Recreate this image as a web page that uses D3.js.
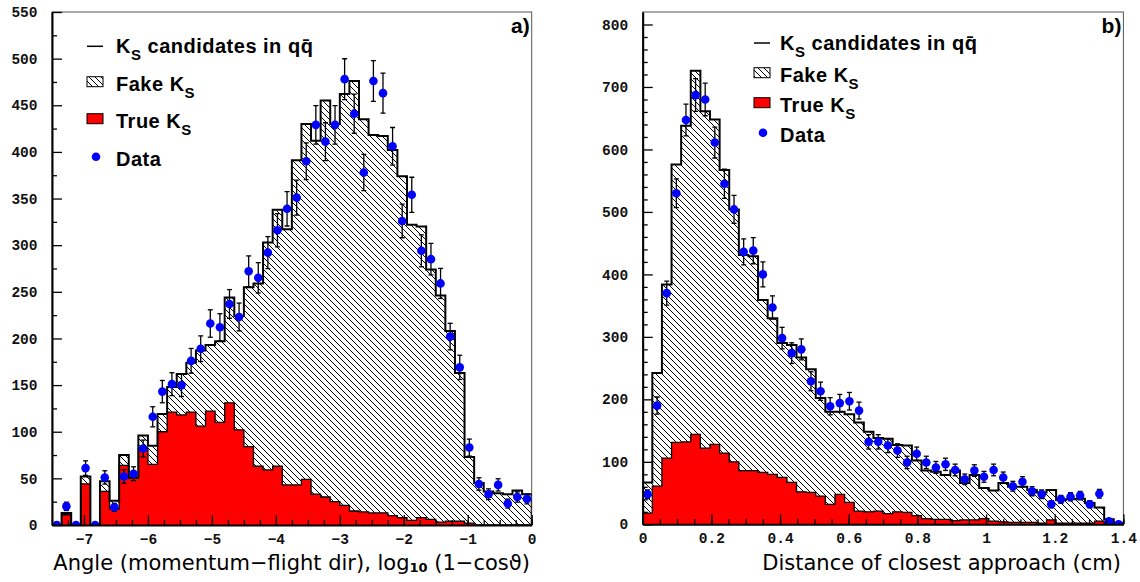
<!DOCTYPE html>
<html><head><meta charset="utf-8">
<script src="https://cdn.jsdelivr.net/npm/d3@7"></script>
<style>body{margin:0;background:#fff} svg{display:block}</style>
</head><body>
<svg id="chart" width="1140" height="582"></svg>
<script>
// ---------- data: panel a (angle, 50 bins from -7.5 to 0) ----------
const angleBinLow = -7.5, angleBinWidth = 0.15;
const angleTotal = [0,13,0,52,0,47,26,75,51,96,85,119,148,162,174,187,193,197,244,224,255,259,303,338,317,391,430,412,455,430,462,476,435,418,417,402,374,322,320,274,246,208,163,73,45,36,34,33,37,33];
const angleTrue  = [0,11,0,44,0,36,17,64,50,82,65,100,121,118,121,106,122,110,131,102,84,63,59,63,43,43,49,33,30,25,21,15,14,13,13,10,8,5,8,6,3,4,4,2,0,0,0,0,0,0];
const angleData  = [0,20,0,61,0,51,19,52,55,82,116,143,151,150,176,189,216,212,237,223,272,265,292,316,339,351,390,429,411,429,478,441,378,476,463,406,326,354,294,285,259,202,169,83,44,33,43,23,30,28];
const angleXTicks = [-7,-6,-5,-4,-3,-2,-1,0];
const angleYTicks = [0,50,100,150,200,250,300,350,400,450,500,550];

// ---------- data: panel b (distance of closest approach, 50 bins from 0 to 1.4) ----------
const dcaBinLow = 0, dcaBinWidth = 0.028;
const dcaTotal = [67,242,384,576,638,726,661,648,567,504,431,429,359,330,290,287,267,248,202,180,180,176,163,148,138,137,127,126,102,86,84,79,86,66,79,58,54,66,60,60,55,51,55,39,40,41,34,27,8,2];
const dcaTrue  = [18,61,106,131,132,144,122,128,114,100,86,86,83,80,75,67,52,51,45,32,48,35,21,20,21,17,20,19,14,9,8,8,6,7,7,9,5,4,3,3,3,2,7,2,2,2,2,5,2,0];
const dcaData  = [48,190,370,530,647,687,680,611,545,504,436,438,400,347,298,274,280,229,213,189,194,197,182,132,132,126,118,99,113,99,91,96,87,72,86,76,87,75,61,68,53,48,32,40,44,46,32,49,5,0];
const dcaXTicks = [0,0.2,0.4,0.6,0.8,1,1.2,1.4];
const dcaYTicks = [0,100,200,300,400,500,600,700,800];

const svg = d3.select("#chart");
const defs = svg.append("defs");
const pat = defs.append("pattern").attr("id","hatch").attr("patternUnits","userSpaceOnUse")
  .attr("width",6).attr("height",6);
pat.append("rect").attr("width",6).attr("height",6).attr("fill","#fff");
pat.append("path").attr("d","M-1,-1 L7,7 M-1,5 L1,7 M5,-1 L7,1").attr("stroke","#000").attr("stroke-width",1);

const tickFont = "'Liberation Mono', monospace";
const legFont = "'Liberation Sans', Arial, sans-serif";

function stepPoints(vals, low, w){
  const pts = [[low,0]];
  vals.forEach((v,i)=>{ pts.push([low+i*w, v]); pts.push([low+(i+1)*w, v]); });
  pts.push([low+vals.length*w, 0]);
  return pts;
}

function drawPanel(o){
  const g = svg.append("g");
  const x = d3.scaleLinear().domain(o.xDomain).range([o.left,o.right]);
  const y = d3.scaleLinear().domain(o.yDomain).range([o.bottom,o.top]);
  const cid = "clip"+o.id;
  defs.append("clipPath").attr("id",cid).append("rect")
    .attr("x",o.left).attr("y",o.top).attr("width",o.right-o.left).attr("height",o.bottom-o.top);

  // frame
  g.append("rect").attr("x",o.left).attr("y",o.top).attr("width",o.right-o.left).attr("height",o.bottom-o.top)
    .attr("fill","#fff").attr("stroke","#555").attr("stroke-width",1);

  const pg = g.append("g").attr("clip-path",`url(#${cid})`);
  const area = d3.area().x(d=>x(d[0])).y0(y(0)).y1(d=>y(d[1]));
  const line = d3.line().x(d=>x(d[0])).y(d=>y(d[1]));

  const tot = stepPoints(o.total, o.low, o.w);
  const tru = stepPoints(o.trueV, o.low, o.w);
  pg.append("path").attr("d",area(tot)).attr("fill","url(#hatch)");
  pg.append("path").attr("d",area(tru)).attr("fill","#ff0000");
  pg.append("path").attr("d",line(tru)).attr("fill","none").attr("stroke","#000").attr("stroke-width",1.3);
  pg.append("path").attr("d",line(tot)).attr("fill","none").attr("stroke","#000").attr("stroke-width",2);

  // data points with errors
  const pts = o.data.map((v,i)=>({xc:o.low+(i+0.5)*o.w, v}));
  const eb = pg.append("g").attr("stroke","#000").attr("stroke-width",1.3);
  pts.filter(d=>d.v>0).forEach(d=>{
    const e = Math.sqrt(d.v);
    const cx = x(d.xc);
    eb.append("line").attr("x1",cx).attr("x2",cx).attr("y1",y(d.v-e)).attr("y2",y(d.v+e));
    eb.append("line").attr("x1",cx-2.5).attr("x2",cx+2.5).attr("y1",y(d.v-e)).attr("y2",y(d.v-e));
    eb.append("line").attr("x1",cx-2.5).attr("x2",cx+2.5).attr("y1",y(d.v+e)).attr("y2",y(d.v+e));
  });
  pg.append("g").selectAll("circle").data(pts).join("circle")
    .attr("cx",d=>x(d.xc)).attr("cy",d=>y(d.v)).attr("r",4.3).attr("fill","#0000ff");

  // axes
  const ya = g.append("g").attr("transform",`translate(${o.left},0)`)
    .call(d3.axisLeft(y).tickValues(o.yTicks).tickSize(-10).tickSizeOuter(0).tickPadding(14.5).tickFormat(d3.format("d")));
  g.append("g").attr("transform",`translate(${o.left},0)`)
    .call(d3.axisLeft(y).tickValues(o.yMinor).tickSize(-5).tickSizeOuter(0).tickFormat(""))
    .select(".domain").remove();
  const xa = g.append("g").attr("transform",`translate(0,${o.bottom})`)
    .call(d3.axisBottom(x).tickValues(o.xTicks).tickSize(-10).tickSizeOuter(0).tickFormat(o.xFmt));
  g.append("g").attr("transform",`translate(0,${o.bottom})`)
    .call(d3.axisBottom(x).tickValues(o.xMinor).tickSize(-5).tickSizeOuter(0).tickFormat(""))
    .select(".domain").remove();
  [ya,xa].forEach(a=>{
    a.select(".domain").attr("stroke","#000").attr("stroke-width",2);
    a.selectAll("text").attr("font-family",tickFont).attr("font-weight","bold").attr("font-size",14.5).attr("fill","#111");
  });
  g.selectAll(".tick line").attr("stroke","#000").attr("stroke-width",1.3);
  xa.selectAll("text").attr("dy",null).attr("y",18.5);

  // legend
  const L = o.leg;
  const lg = g.append("g").attr("font-family",legFont).attr("font-weight","bold").attr("font-size",20).attr("letter-spacing",0.5).attr("fill","#000");
  lg.append("line").attr("x1",L.sx).attr("x2",L.sx+16).attr("y1",L.rows[0]-7).attr("y2",L.rows[0]-7).attr("stroke","#000").attr("stroke-width",1.5);
  lg.append("rect").attr("x",L.sx).attr("y",L.rows[1]-14).attr("width",16).attr("height",10).attr("fill","url(#hatch)").attr("stroke","#000").attr("stroke-width",1);
  lg.append("rect").attr("x",L.sx).attr("y",L.rows[2]-14).attr("width",16).attr("height",10).attr("fill","#ff0000").attr("stroke","#000").attr("stroke-width",1);
  lg.append("circle").attr("cx",L.sx+9).attr("cy",L.rows[3]-9).attr("r",4.3).attr("fill","#0000ff");
  const t1 = lg.append("text").attr("x",L.tx).attr("y",L.rows[0]);
  t1.append("tspan").text("K");
  t1.append("tspan").attr("font-size",15).attr("dy",7).text("S");
  t1.append("tspan").attr("dy",-7).text(" candidates in q");
  t1.append("tspan").text("q\u0304");
  const t2 = lg.append("text").attr("x",L.tx).attr("y",L.rows[1]);
  t2.append("tspan").text("Fake K");
  t2.append("tspan").attr("font-size",15).attr("dy",7).text("S");
  const t3 = lg.append("text").attr("x",L.tx).attr("y",L.rows[2]);
  t3.append("tspan").text("True K");
  t3.append("tspan").attr("font-size",15).attr("dy",7).text("S");
  lg.append("text").attr("x",L.tx).attr("y",L.rows[3]).text("Data");

  g.append("text").attr("x",o.right-2).attr("y",33).attr("text-anchor","end")
    .attr("font-family",legFont).attr("font-weight","bold").attr("font-size",21).text(o.tag);

  return g;
}

const gA = drawPanel({id:"a", left:52, right:531.7, top:12, bottom:525,
  xDomain:[-7.5,0], yDomain:[0,550], low:angleBinLow, w:angleBinWidth,
  total:angleTotal, trueV:angleTrue, data:angleData,
  xTicks:angleXTicks, yTicks:angleYTicks, xFmt:d3.format("d"),
  xMinor:d3.range(-7.5,0.001,0.25), yMinor:d3.range(25,550,50),
  leg:{sx:87, tx:116, rows:[53.3,90.7,127.7,165.7]}, tag:"a)"});
const tA = gA.append("text").attr("x",530).attr("y",570).attr("text-anchor","end")
  .attr("font-family","'DejaVu Sans', sans-serif").attr("font-size",21).attr("fill","#000");
tA.append("tspan").text("Angle (momentum\u2212flight dir), log");
tA.append("tspan").attr("font-size",13).attr("font-weight","bold").attr("dy",2).text("10");
tA.append("tspan").attr("dy",-2).text(" (1\u2212cos\u03D1)");

const gB = drawPanel({id:"b", left:642.7, right:1123.4, top:12, bottom:524.3,
  xDomain:[0,1.4], yDomain:[0,820], low:dcaBinLow, w:dcaBinWidth,
  total:dcaTotal, trueV:dcaTrue, data:dcaData,
  xTicks:dcaXTicks, yTicks:dcaYTicks, xFmt:d=>String(+d.toFixed(1)),
  xMinor:d3.range(0,1.401,0.05), yMinor:d3.range(20,820,20).filter(v=>v%100!==0),
  leg:{sx:754, tx:780, rows:[50,81.7,111.7,141.7]}, tag:"b)"});
gB.append("text").attr("x",1121).attr("y",570).attr("text-anchor","end")
  .attr("font-family","'DejaVu Sans', sans-serif").attr("font-size",21).attr("fill","#000")
  .text("Distance of closest approach (cm)");
</script>
</body></html>
